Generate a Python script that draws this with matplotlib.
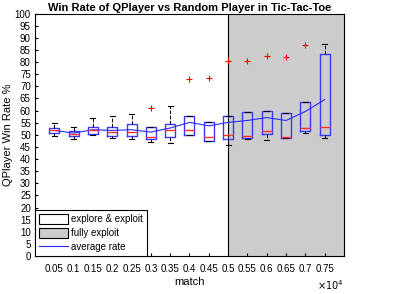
import matplotlib
matplotlib.use("Agg")
import matplotlib.pyplot as plt
from matplotlib.patches import Patch
from matplotlib.lines import Line2D

plt.rcParams['font.family'] = ['Liberation Sans', 'DejaVu Sans']

# match positions (x 1e4 on the axis)
matches = [500, 1000, 1500, 2000, 2500, 3000, 3500, 4000, 4500, 5000, 5500, 6000, 6500, 7000, 7500]
tick_labels = ["0.05", "0.1", "0.15", "0.2", "0.25", "0.3", "0.35", "0.4", "0.45",
               "0.5", "0.55", "0.6", "0.65", "0.7", "0.75"]

# box summaries (win rate %)
whisk_lo = [49.3, 48.3, 50.0, 48.6, 48.2, 47.0, 46.6, 50.0, 47.4, 45.6, 48.3, 47.9, 48.6, 50.7, 48.6]
q1 = [50.7, 49.7, 50.3, 49.6, 49.6, 48.2, 49.0, 50.0, 47.6, 48.2, 48.6, 50.3, 48.6, 51.7, 50.0]
med = [51.8, 50.3, 52.1, 51.0, 51.0, 49.0, 51.8, 52.1, 49.0, 49.9, 49.6, 51.4, 49.0, 52.6, 53.4]
q3 = [52.8, 51.7, 53.4, 53.4, 54.4, 53.2, 54.4, 57.9, 55.2, 57.6, 59.2, 59.9, 59.0, 63.5, 83.3]
whisk_hi = [54.8, 53.4, 56.9, 57.6, 58.7, 53.2, 62.0, 57.9, 55.2, 57.6, 59.2, 59.9, 59.0, 63.5, 87.5]
outliers = [[], [], [], [], [], [61.0], [], [73.0], [73.4], [80.3], [80.4], [82.6], [81.9], [87.2], []]

avg_rate = [51.8, 50.7, 52.1, 51.8, 52.1, 51.1, 52.8, 55.1, 53.7, 55.1, 55.9, 57.1, 55.9, 59.6, 64.5]

stats = []
for i in range(len(matches)):
    stats.append({"whislo": whisk_lo[i], "q1": q1[i], "med": med[i], "q3": q3[i],
                  "whishi": whisk_hi[i], "fliers": outliers[i]})

fig = plt.figure(figsize=(3.98, 2.94), dpi=100)
ax = fig.add_axes([0.088, 0.129, 0.776, 0.825])

# fully exploit region
ax.axvspan(5000, 8000, facecolor="0.8", edgecolor="none", zorder=0)
ax.axvline(5000, color="black", lw=0.8, zorder=1)

ax.bxp(stats, positions=matches, widths=260, manage_ticks=False,
       boxprops=dict(color="#3a3aff", lw=1.0),
       medianprops=dict(color="#ff3030", lw=1.0),
       whiskerprops=dict(color="black", lw=0.7, linestyle="--"),
       capprops=dict(color="black", lw=0.8),
       capwidths=130,
       flierprops=dict(marker="+", markeredgecolor="red", markersize=4, markeredgewidth=0.8))

ax.plot(matches, avg_rate, color="#2a2aff", lw=0.8)

ax.set_xlim(0, 8000)
ax.set_ylim(0, 100)
ax.set_xticks(matches)
ax.set_xticklabels(tick_labels)
ax.set_yticks(range(0, 101, 5))
ax.tick_params(direction="in", length=2, labelsize=7, pad=3)
ax.tick_params(axis="x", pad=6)
for s in ax.spines.values():
    s.set_linewidth(0.8)

ax.set_title("Win Rate of QPlayer vs Random Player in Tic-Tac-Toe", fontsize=8, fontweight="bold", pad=2)
ax.set_ylabel("QPlayer Win Rate %", fontsize=8, labelpad=1)
ax.set_xlabel("match", fontsize=8, labelpad=2)
ax.text(1.0, -0.12, r"$\times10^4$", transform=ax.transAxes, ha="right", va="center", fontsize=7)

handles = [Patch(facecolor="white", edgecolor="black", lw=0.8, label="explore & exploit"),
           Patch(facecolor="0.8", edgecolor="black", lw=0.8, label="fully exploit"),
           Line2D([], [], color="#2a2aff", lw=0.8, label="average rate")]
leg = ax.legend(handles=handles, loc="lower left", fontsize=7, fancybox=False,
                edgecolor="black", framealpha=1, borderaxespad=0, handlelength=3.0,
                handleheight=1.2, borderpad=0.4, labelspacing=0.4, handletextpad=0.3)
leg.get_frame().set_linewidth(0.8)

fig.savefig("out.png", dpi=100)
